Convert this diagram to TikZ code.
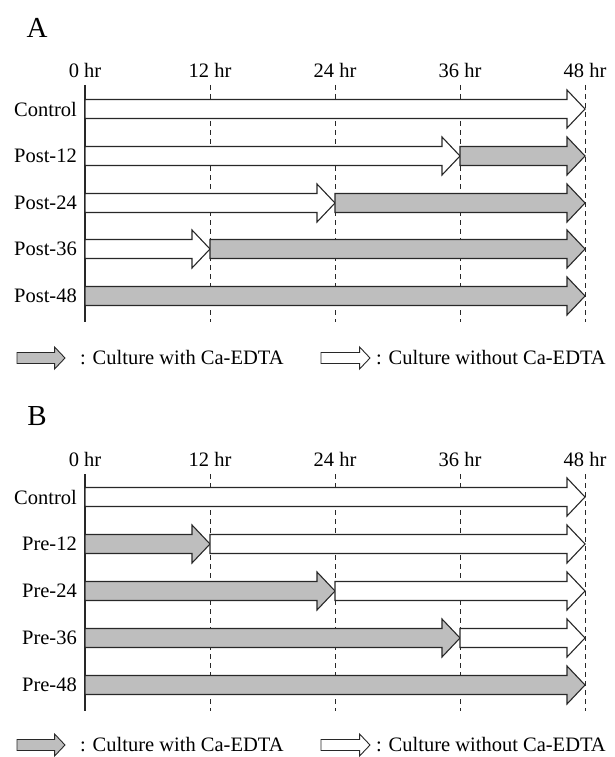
\documentclass[tikz,border=0pt]{standalone}
\usepackage{fontspec}
\setmainfont{Liberation Serif}
\usetikzlibrary{positioning}
\definecolor{edtagray}{RGB}{190,190,190}
\definecolor{lineink}{RGB}{40,40,40}
% block arrow: [scale]{style}{x start}{x tip}{y}
\newcommand{\culturebar}[5][1]{%
  \draw[#2] (#3,#5-9.5*#1) -- (#4-18*#1,#5-9.5*#1) -- (#4-18*#1,#5-19*#1)
    -- (#4,#5) -- (#4-18*#1,#5+19*#1) -- (#4-18*#1,#5+9.5*#1)
    -- (#3,#5+9.5*#1) -- cycle;}

\begin{document}
\begin{tikzpicture}[x=1pt, y=-1pt,
  withedta/.style={draw=lineink, fill=edtagray, line width=1.1pt},
  noedta/.style={draw=lineink, fill=white, line width=1.1pt},
  tickline/.style={draw=lineink, line width=0.9pt, dash pattern=on 5pt off 4pt},
  axisline/.style={draw=lineink, line width=1.2pt},
  hrlabel/.style={font=\fontsize{20.5}{24}\selectfont, inner sep=0pt},
  rowlabel/.style={font=\fontsize{20.5}{24}\selectfont, anchor=east, inner sep=0pt},
  panel/.style={font=\fontsize{29}{32}\selectfont, inner sep=0pt},
  legtext/.style={font=\fontsize{20.5}{24}\selectfont, anchor=west, inner sep=0pt}
]
\useasboundingbox (0,0) rectangle (614,757);
% Panel A
\node[panel] (A) at (37,28) {A};
\node[hrlabel] (a0) at (85,70) {0 hr};
\node[hrlabel] (a12) at (210,70) {12 hr};
\node[hrlabel] (a24) at (335,70) {24 hr};
\node[hrlabel] (a36) at (460,70) {36 hr};
\node[hrlabel] (a48) at (585,70) {48 hr};
\draw[tickline] (210,85) -- (210,322);
\draw[tickline] (335,85) -- (335,322);
\draw[tickline] (460,85) -- (460,322);
\draw[tickline] (585,85) -- (585,322);
\draw[axisline] (85,85) -- (85,322);
\node[rowlabel] (actrl) at (77,109) {Control};
\node[rowlabel] (post12) at (77,156) {Post-12};
\node[rowlabel] (post24) at (77,203) {Post-24};
\node[rowlabel] (post36) at (77,249) {Post-36};
\node[rowlabel] (post48) at (77,296) {Post-48};
\culturebar{noedta}{85}{585}{109}
\culturebar{noedta}{85}{460}{156}
\culturebar{withedta}{460}{585}{156}
\culturebar{noedta}{85}{335}{203}
\culturebar{withedta}{335}{585}{203}
\culturebar{noedta}{85}{210}{249}
\culturebar{withedta}{210}{585}{249}
\culturebar{withedta}{85}{585}{296}
% Legend A
\culturebar[0.58]{withedta, line width=0.9pt}{17}{65}{358}
\node[legtext] (alegw) at (80,358) {: Culture with Ca-EDTA};
\culturebar[0.58]{noedta, line width=0.9pt}{321}{370}{358}
\node[legtext] (alegwo) at (376,358) {: Culture without Ca-EDTA};
% Panel B
\node[panel] (B) at (37,416) {B};
\node[hrlabel] (b0) at (85,459) {0 hr};
\node[hrlabel] (b12) at (210,459) {12 hr};
\node[hrlabel] (b24) at (335,459) {24 hr};
\node[hrlabel] (b36) at (460,459) {36 hr};
\node[hrlabel] (b48) at (585,459) {48 hr};
\draw[tickline] (210,474) -- (210,711);
\draw[tickline] (335,474) -- (335,711);
\draw[tickline] (460,474) -- (460,711);
\draw[tickline] (585,474) -- (585,711);
\draw[axisline] (85,474) -- (85,711);
\node[rowlabel] (bctrl) at (77,497) {Control};
\node[rowlabel] (pre12) at (77,544) {Pre-12};
\node[rowlabel] (pre24) at (77,591) {Pre-24};
\node[rowlabel] (pre36) at (77,638) {Pre-36};
\node[rowlabel] (pre48) at (77,685) {Pre-48};
\culturebar{noedta}{85}{585}{497}
\culturebar{withedta}{85}{210}{544}
\culturebar{noedta}{210}{585}{544}
\culturebar{withedta}{85}{335}{591}
\culturebar{noedta}{335}{585}{591}
\culturebar{withedta}{85}{460}{638}
\culturebar{noedta}{460}{585}{638}
\culturebar{withedta}{85}{585}{685}
% Legend B
\culturebar[0.58]{withedta, line width=0.9pt}{17}{65}{745}
\node[legtext] (blegw) at (80,745) {: Culture with Ca-EDTA};
\culturebar[0.58]{noedta, line width=0.9pt}{321}{370}{745}
\node[legtext] (blegwo) at (376,745) {: Culture without Ca-EDTA};
\end{tikzpicture}
\end{document}
